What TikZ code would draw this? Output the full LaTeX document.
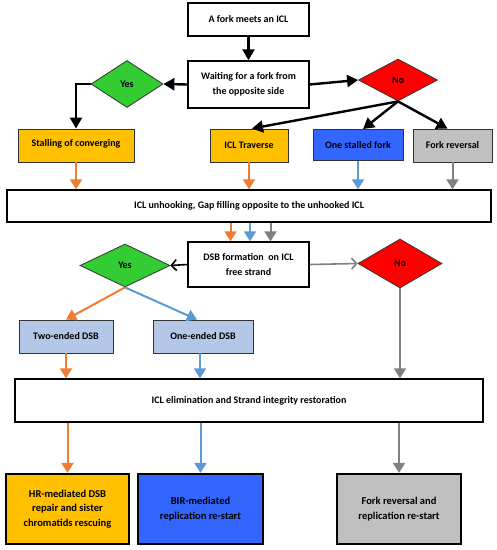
\documentclass[tikz,border=0pt]{standalone}
\usepackage{fontspec}
\setmainfont{Carlito}
\usetikzlibrary{shapes.geometric,arrows.meta,calc}
\definecolor{cyel}{HTML}{FFC000}
\definecolor{cblue}{HTML}{3366FF}
\definecolor{cgrey}{HTML}{C0C0C0}
\definecolor{cgreen}{HTML}{33CC33}
\definecolor{cred}{HTML}{FF0000}
\definecolor{clblue}{HTML}{B4C7E7}
\definecolor{aor}{HTML}{ED7D31}
\definecolor{abl}{HTML}{5B9BD5}
\definecolor{agr}{HTML}{808080}
\tikzset{
  box/.style={draw=black, line width=1.4pt, rectangle, align=center, inner sep=1pt, font=\bfseries\fontsize{10}{14.5}\selectfont},
  cbox/.style={draw=black!80, line width=0.9pt, rectangle, align=center, inner sep=1pt, font=\bfseries\fontsize{10}{14}\selectfont},
  fbox/.style={draw=black, line width=2.2pt, rectangle, align=center, inner sep=1pt, font=\bfseries\fontsize{10.5}{14.5}\selectfont},
  dia/.style={draw=black!80, line width=0.8pt, diamond, inner sep=0pt, font=\bfseries\fontsize{10}{12}\selectfont},
  blk/.style={draw=black, line width=2.4pt, -{Triangle[length=11pt,width=12pt]}},
  oarr/.style={draw=aor, line width=2pt, -{Triangle[length=10pt,width=12pt]}},
  barr/.style={draw=abl, line width=2pt, -{Triangle[length=10pt,width=12pt]}},
  garr/.style={draw=agr, line width=2pt, -{Triangle[length=10pt,width=12pt]}},
  bopen/.style={draw=black, line width=1.6pt, -{Straight Barb[length=5pt,width=11pt]}},
  gopen/.style={draw=agr, line width=1.6pt, -{Straight Barb[length=5pt,width=11pt]}},
}
\begin{document}
\begin{tikzpicture}[x=1pt,y=-1pt]
\useasboundingbox (0,0) rectangle (497,550);
% nodes
\node[box, minimum width=121, minimum height=33] (fork) at (248.5,19.5) {A fork meets an ICL};
\node[box, minimum width=121, minimum height=47] (wait) at (248.5,84.5) {Waiting for a fork from\\the opposite side};
\node[dia, fill=cgreen, minimum width=72, minimum height=47] (yes1) at (127,84) {Yes};
\node[dia, fill=cred, minimum width=79, minimum height=42] (no1) at (398,80) {No};
\node[cbox, fill=cyel, minimum width=116, minimum height=33, text depth=6pt] (stall) at (76,145.5) {Stalling of converging};
\node[cbox, fill=cyel, minimum width=78, minimum height=33] (trav) at (249,145.5) {ICL Traverse};
\node[cbox, fill=cblue, minimum width=90, minimum height=31] (one) at (358,145) {One stalled fork};
\node[cbox, fill=cgrey, minimum width=79, minimum height=33] (frev) at (452.5,145.5) {Fork reversal};
\node[box, minimum width=484, minimum height=32] (unhook) at (249,206) {ICL unhooking, Gap filling opposite to the unhooked ICL};
\node[box, minimum width=121, minimum height=45] (dsb) at (248.5,264.5) {DSB formation~ on ICL\\free strand};
\node[dia, fill=cgreen, minimum width=90, minimum height=43] (yes2) at (125,265.5) {Yes};
\node[dia, fill=cred, minimum width=84, minimum height=49] (no2) at (400,263.5) {No};
\node[cbox, fill=clblue, minimum width=94, minimum height=33] (two) at (66,336.5) {Two-ended DSB};
\node[cbox, fill=clblue, minimum width=100, minimum height=33] (oneend) at (203,336.5) {One-ended DSB};
\node[box, minimum width=468, minimum height=43] (elim) at (249,400.5) {ICL elimination and Strand integrity restoration};
\node[fbox, fill=cyel, minimum width=123, minimum height=70] (hr) at (67.5,509) {HR-mediated DSB\\repair and sister\\chromatids rescuing};
\node[fbox, fill=cblue, minimum width=125, minimum height=70] (bir) at (200.5,509) {BIR-mediated\\replication re-start};
\node[fbox, fill=cgrey, minimum width=124, minimum height=70] (frfin) at (399,509) {Fork reversal and\\replication re-start};
% top black arrows
\draw[blk] (fork.south) -- (wait.north);
\draw[blk] (wait.west) -- (yes1.east);
\draw[blk] (yes1.west) -| (stall.north);
\draw[blk] (wait.east) -- (no1.west);
\draw[blk] (no1.south) -- ([xshift=3pt]trav.north);
\draw[blk] (no1.south) -- ([xshift=5pt]one.north);
\draw[blk] (no1.south) -- ([xshift=-5pt]frev.north);
% coloured arrows to unhook
\draw[oarr] (stall.south) -- (stall.south |- unhook.north);
\draw[oarr] (trav.south) -- (trav.south |- unhook.north);
\draw[barr] (one.south) -- (one.south |- unhook.north);
\draw[garr] (frev.south) -- (frev.south |- unhook.north);
% unhook to dsb
\draw[oarr] ([xshift=-18pt]dsb.north |- unhook.south) -- ([xshift=-18pt]dsb.north);
\draw[barr] ([xshift=1.5pt]dsb.north |- unhook.south) -- ([xshift=1.5pt]dsb.north);
\draw[garr] ([xshift=22pt]dsb.north |- unhook.south) -- ([xshift=22pt]dsb.north);
% dsb branches
\draw[bopen] (dsb.west) -- (yes2.east);
\draw[gopen] (dsb.east) -- (no2.west);
\draw[oarr] (yes2.south) -- (two.north);
\draw[barr] (yes2.south) -- ([xshift=-6pt]oneend.north);
\draw[garr] (no2.south) -- (no2.south |- elim.north);
\draw[oarr] (two.south) -- (two.south |- elim.north);
\draw[barr] ([xshift=-3pt]oneend.south) -- ([xshift=-3pt]oneend.south |- elim.north);
% to final
\draw[oarr] (hr.north |- elim.south) -- (hr.north);
\draw[barr] (bir.north |- elim.south) -- (bir.north);
\draw[garr] (frfin.north |- elim.south) -- (frfin.north);
\end{tikzpicture}
\end{document}
